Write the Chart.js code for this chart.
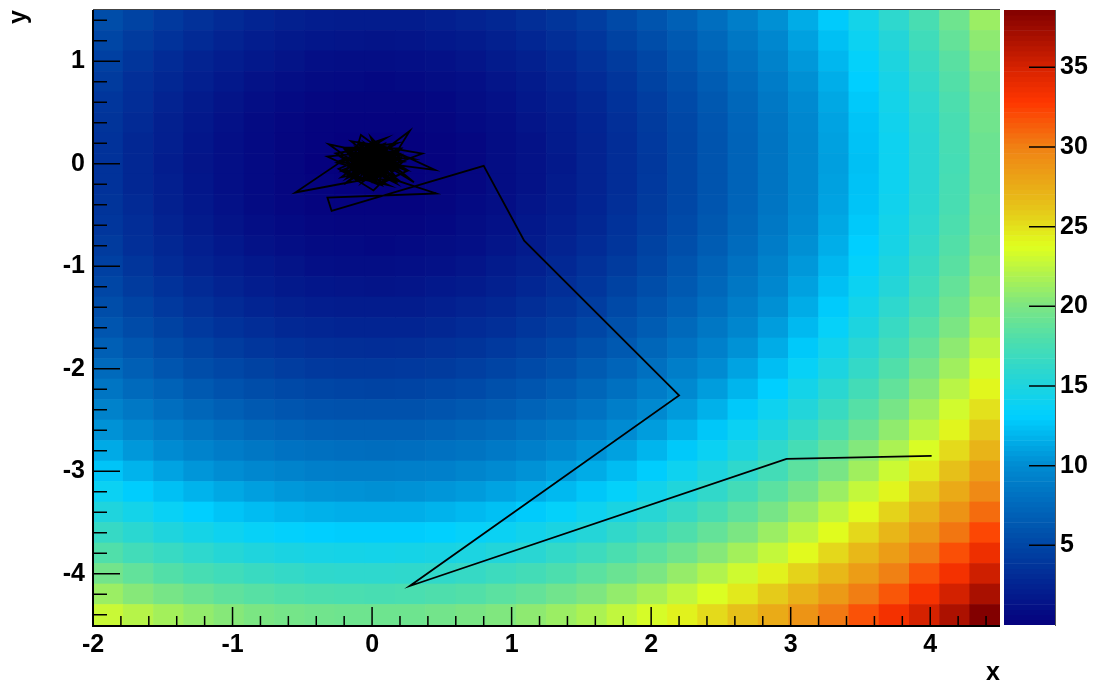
<!DOCTYPE html>
<html>
<head>
<meta charset="utf-8">
<script src="https://cdn.jsdelivr.net/npm/chart.js@4.4.1/dist/chart.umd.min.js"></script>
<style>
  html, body { margin: 0; padding: 0; background: #fff; }
  #wrap { position: relative; width: 1105px; height: 688px; }
  #main { position: absolute; left: 0; top: 0; }
  #palette { position: absolute; left: 1004px; top: 0; }
</style>
</head>
<body>
<div id="wrap">
  <canvas id="main" width="1105" height="688"></canvas>
  <canvas id="palette" width="101" height="688"></canvas>
</div>
<script>
// bin edges of the 30 x 30 histogram
const xEdges = [-2, -1.7833, -1.5667, -1.35, -1.1333, -0.9167, -0.7, -0.4833, -0.2667, -0.05,
  0.1667, 0.3833, 0.6, 0.8167, 1.0333, 1.25, 1.4667, 1.6833, 1.9, 2.1167,
  2.3333, 2.55, 2.7667, 2.9833, 3.2, 3.4167, 3.6333, 3.85, 4.0667, 4.2833, 4.5];
const yEdges = [-4.5, -4.3, -4.1, -3.9, -3.7, -3.5, -3.3, -3.1, -2.9, -2.7, -2.5, -2.3, -2.1,
  -1.9, -1.7, -1.5, -1.3, -1.1, -0.9, -0.7, -0.5, -0.3, -0.1, 0.1, 0.3, 0.5, 0.7, 0.9, 1.1, 1.3, 1.5];

// bin contents, top row (y = 1.4) first, left to right
const zValues = [
  [5.5,4.8,4.1,3.5,3.0,2.6,2.3,2.1,2.0,2.0,2.0,2.2,2.5,2.8,3.3,3.8,4.4,5.2,6.0,6.9,7.9,9.0,10.2,11.5,12.9,14.4,16.0,17.6,19.4,21.2],
  [5.0,4.2,3.6,3.0,2.5,2.1,1.8,1.6,1.5,1.4,1.5,1.7,1.9,2.3,2.7,3.3,3.9,4.7,5.5,6.4,7.4,8.5,9.7,11.0,12.4,13.9,15.4,17.1,18.9,20.7],
  [4.6,3.8,3.1,2.5,2.1,1.7,1.4,1.1,1.0,1.0,1.1,1.2,1.5,1.9,2.3,2.9,3.5,4.2,5.0,6.0,7.0,8.1,9.3,10.6,12.0,13.4,15.0,16.7,18.4,20.3],
  [4.2,3.4,2.8,2.2,1.7,1.3,1.0,0.8,0.7,0.6,0.7,0.9,1.1,1.5,1.9,2.5,3.1,3.8,4.7,5.6,6.6,7.7,8.9,10.2,11.6,13.1,14.6,16.3,18.1,19.9],
  [3.9,3.2,2.5,1.9,1.4,1.0,0.7,0.5,0.4,0.4,0.4,0.6,0.9,1.2,1.7,2.2,2.8,3.6,4.4,5.3,6.3,7.4,8.6,9.9,11.3,12.8,14.4,16.0,17.8,19.6],
  [3.7,3.0,2.3,1.7,1.2,0.8,0.5,0.3,0.2,0.2,0.2,0.4,0.7,1.0,1.5,2.0,2.6,3.4,4.2,5.1,6.1,7.2,8.4,9.7,11.1,12.6,14.2,15.8,17.6,19.5],
  [3.6,2.8,2.2,1.6,1.1,0.7,0.4,0.2,0.1,0.0,0.1,0.3,0.5,0.9,1.3,1.9,2.5,3.2,4.1,5.0,6.0,7.1,8.3,9.6,11.0,12.5,14.0,15.7,17.5,19.3],
  [3.6,2.8,2.1,1.5,1.1,0.7,0.4,0.1,0.0,0.0,0.1,0.2,0.5,0.9,1.3,1.8,2.5,3.2,4.0,5.0,6.0,7.1,8.3,9.6,10.9,12.4,14.0,15.7,17.4,19.3],
  [3.6,2.8,2.2,1.6,1.1,0.7,0.4,0.2,0.1,0.0,0.1,0.3,0.5,0.9,1.3,1.9,2.5,3.2,4.1,5.0,6.0,7.1,8.3,9.6,11.0,12.5,14.0,15.7,17.5,19.3],
  [3.7,3.0,2.3,1.7,1.2,0.8,0.5,0.3,0.2,0.2,0.2,0.4,0.7,1.0,1.5,2.0,2.6,3.4,4.2,5.1,6.1,7.2,8.4,9.7,11.1,12.6,14.2,15.8,17.6,19.5],
  [3.9,3.2,2.5,1.9,1.4,1.0,0.7,0.5,0.4,0.4,0.4,0.6,0.9,1.2,1.7,2.2,2.8,3.6,4.4,5.3,6.3,7.4,8.6,9.9,11.3,12.8,14.4,16.0,17.8,19.6],
  [4.2,3.4,2.8,2.2,1.7,1.3,1.0,0.8,0.7,0.6,0.7,0.9,1.1,1.5,1.9,2.5,3.1,3.8,4.7,5.6,6.6,7.7,8.9,10.2,11.6,13.1,14.6,16.3,18.1,19.9],
  [4.6,3.8,3.1,2.5,2.1,1.7,1.4,1.1,1.0,1.0,1.1,1.2,1.5,1.9,2.3,2.9,3.5,4.2,5.0,6.0,7.0,8.1,9.3,10.6,12.0,13.4,15.0,16.7,18.4,20.3],
  [5.0,4.2,3.6,3.0,2.5,2.1,1.8,1.6,1.5,1.4,1.5,1.7,1.9,2.3,2.7,3.3,3.9,4.7,5.5,6.4,7.4,8.5,9.7,11.0,12.4,13.9,15.4,17.1,18.9,20.7],
  [5.5,4.8,4.1,3.5,3.0,2.6,2.3,2.1,2.0,2.0,2.0,2.2,2.5,2.8,3.3,3.8,4.4,5.2,6.0,6.9,7.9,9.0,10.2,11.5,12.9,14.4,16.0,17.6,19.4,21.2],
  [6.1,5.4,4.7,4.1,3.6,3.2,2.9,2.7,2.6,2.6,2.6,2.8,3.1,3.4,3.9,4.4,5.0,5.8,6.6,7.5,8.5,9.6,10.8,12.1,13.5,15.0,16.6,18.2,20.0,21.8],
  [6.8,6.1,5.4,4.8,4.3,3.9,3.6,3.4,3.3,3.2,3.3,3.5,3.7,4.1,4.5,5.1,5.7,6.4,7.3,8.2,9.2,10.3,11.5,12.8,14.2,15.7,17.2,18.9,20.7,22.5],
  [7.6,6.8,6.1,5.5,5.1,4.7,4.4,4.1,4.0,4.0,4.1,4.2,4.5,4.9,5.3,5.8,6.5,7.2,8.0,9.0,10.0,11.1,12.3,13.6,14.9,16.4,18.0,19.7,21.4,23.3],
  [8.4,7.6,7.0,6.4,5.9,5.5,5.2,5.0,4.9,4.8,4.9,5.1,5.3,5.7,6.1,6.7,7.3,8.0,8.9,9.8,10.8,11.9,13.1,14.4,15.8,17.3,18.8,20.5,22.3,24.1],
  [9.3,8.6,7.9,7.3,6.8,6.4,6.1,5.9,5.8,5.8,5.8,6.0,6.3,6.6,7.1,7.6,8.2,9.0,9.8,10.7,11.7,12.8,14.0,15.3,16.7,18.2,19.8,21.4,23.2,25.0],
  [10.3,9.6,8.9,8.3,7.8,7.4,7.1,6.9,6.8,6.8,6.8,7.0,7.3,7.6,8.1,8.6,9.2,10.0,10.8,11.7,12.7,13.8,15.0,16.3,17.7,19.2,20.8,22.4,24.2,26.0],
  [11.4,10.6,10.0,9.4,8.9,8.5,8.2,8.0,7.9,7.8,7.9,8.1,8.3,8.7,9.1,9.7,10.3,11.0,11.9,12.8,13.8,14.9,16.1,17.4,18.8,20.3,21.8,23.5,25.3,27.1],
  [12.6,11.8,11.1,10.5,10.1,9.7,9.4,9.1,9.0,9.0,9.1,9.2,9.5,9.9,10.3,10.8,11.5,12.2,13.0,14.0,15.0,16.1,17.3,18.6,19.9,21.4,23.0,24.7,26.4,28.3],
  [13.8,13.0,12.4,11.8,11.3,10.9,10.6,10.4,10.3,10.2,10.3,10.5,10.7,11.1,11.5,12.1,12.7,13.4,14.3,15.2,16.2,17.3,18.5,19.8,21.2,22.7,24.2,25.9,27.7,29.5],
  [15.1,14.4,13.7,13.1,12.6,12.2,11.9,11.7,11.6,11.6,11.6,11.8,12.1,12.4,12.9,13.4,14.0,14.8,15.6,16.5,17.5,18.6,19.8,21.1,22.5,24.0,25.6,27.2,29.0,30.8],
  [16.5,15.8,15.1,14.5,14.0,13.6,13.3,13.1,13.0,13.0,13.0,13.2,13.5,13.8,14.3,14.8,15.4,16.2,17.0,17.9,18.9,20.0,21.2,22.5,23.9,25.4,27.0,28.6,30.4,32.2],
  [18.0,17.2,16.6,16.0,15.5,15.1,14.8,14.6,14.5,14.4,14.5,14.7,14.9,15.3,15.7,16.3,16.9,17.7,18.5,19.4,20.4,21.5,22.7,24.0,25.4,26.9,28.4,30.1,31.9,33.7],
  [19.6,18.8,18.1,17.5,17.1,16.7,16.4,16.1,16.0,16.0,16.1,16.2,16.5,16.9,17.3,17.8,18.5,19.2,20.0,21.0,22.0,23.1,24.3,25.6,26.9,28.4,30.0,31.7,33.4,35.3],
  [21.2,20.4,19.8,19.2,18.7,18.3,18.0,17.8,17.7,17.6,17.7,17.9,18.1,18.5,18.9,19.5,20.1,20.9,21.7,22.6,23.6,24.7,25.9,27.2,28.6,30.1,31.6,33.3,35.1,36.9],
  [22.9,22.2,21.5,20.9,20.4,20.0,19.7,19.5,19.4,19.4,19.4,19.6,19.9,20.2,20.7,21.2,21.8,22.6,23.4,24.3,25.3,26.4,27.6,28.9,30.3,31.8,33.4,35.0,36.8,38.6]
];

// walker path: starts at the far point, settles around the minimum
const pathX = [4.01, 2.97, 0.27, 2.20, 1.09, 0.80, -0.29, -0.32, 0.46, 0.08, -0.55, -0.19, 0.45, 0.02,
  -0.12, 0.27, 0.05, -0.31, 0.14, -0.08, -0.17, 0.12, -0.32, 0.03, 0.30, -0.10, 0.18, -0.24, 0.01,
  0.22, -0.06, 0.09, -0.15, 0.36, -0.03, 0.11, -0.20, 0.06, -0.09, 0.16, -0.04, 0.20, -0.13, 0.04,
  0.25, -0.07, 0.10, -0.18, 0.00, 0.13, -0.11, 0.07, -0.02, 0.15, -0.14, 0.03, -0.06, 0.19, -0.01,
  0.09, -0.16, 0.12, -0.05, 0.02, 0.21, -0.21, 0.06, -0.08, 0.14, -0.03, 0.10, -0.12, 0.04, 0.29,
  -0.10, 0.01, 0.17, -0.26, 0.08, -0.04, 0.11, -0.07, 0.05, -0.02,
  0.21, -0.18, 0.08, -0.23, 0.17, -0.05, 0.24, -0.15, 0.02, -0.21, 0.19, -0.09, 0.13, -0.24, 0.06,
  0.22, -0.12, 0.16, -0.19, 0.00, 0.20, -0.16, 0.10, -0.22, 0.14, -0.02, 0.23, -0.20, 0.07, -0.11,
  0.18, -0.25, 0.12, -0.07, 0.21, -0.17, 0.04, -0.14, 0.17, -0.21,
  0.05, -0.09, 0.12, -0.03, 0.08, -0.12, 0.02, 0.10, -0.06, 0.14, -0.10, 0.04, -0.01, 0.09, -0.08,
  0.13, -0.04, 0.06, -0.13, 0.01, 0.11, -0.07, 0.03, -0.11, 0.07, -0.02, 0.12, -0.09, 0.05, -0.05,
  0.15, -0.14, 0.00, 0.08, -0.03, 0.10, -0.10, 0.04, -0.06, 0.13, -0.01, 0.07, -0.12, 0.02, 0.09,
  -0.08, 0.06, -0.04, 0.11, -0.11, 0.03, -0.07, 0.14, -0.02, 0.05, -0.09, 0.10, -0.05, 0.01, 0.12,
  -0.13, 0.06, -0.03, 0.08, -0.10, 0.04, 0.11, -0.06, 0.00, 0.09];
const pathY = [-2.85, -2.88, -4.12, -2.26, -0.75, -0.02, -0.46, -0.33, -0.29, -0.12, -0.28, 0.05, -0.06, 0.21,
  -0.08, 0.32, -0.16, 0.19, 0.06, 0.28, -0.12, -0.21, 0.07, 0.12, -0.18, 0.15, 0.20, -0.05, -0.26,
  0.02, 0.09, -0.04, 0.22, 0.10, -0.10, 0.14, -0.20, 0.03, -0.02, -0.11, 0.18, 0.09, 0.00, -0.20,
  -0.07, 0.11, 0.25, 0.12, -0.07, -0.15, -0.16, 0.08, 0.04, 0.01, 0.07, 0.16, -0.13, -0.03, 0.26,
  -0.09, -0.03, 0.11, 0.06, -0.11, 0.15, 0.16, -0.02, 0.03, -0.06, 0.13, 0.04, -0.09, 0.07, 0.05,
  0.20, 0.00, -0.19, 0.10, 0.19, -0.04, -0.01, -0.06, 0.10, 0.01,
  0.10, -0.14, 0.19, 0.03, -0.17, 0.20, -0.05, 0.12, -0.19, -0.06, 0.14, 0.21, -0.16, 0.08, -0.20,
  -0.09, 0.17, -0.02, 0.13, -0.18, 0.06, -0.11, 0.20, -0.13, -0.04, 0.18, 0.02, -0.08, -0.21, 0.15,
  -0.15, 0.01, 0.16, -0.18, 0.09, 0.11, -0.12, -0.03, 0.19, -0.07,
  -0.04, 0.08, 0.02, -0.10, 0.12, -0.02, 0.15, -0.07, 0.05, -0.12, 0.10, -0.05, 0.07, 0.13, -0.09,
  0.04, 0.16, -0.01, 0.06, -0.13, 0.09, 0.01, -0.08, 0.11, -0.03, 0.14, -0.06, 0.03, 0.17, -0.11,
  0.06, 0.00, -0.14, 0.08, 0.12, -0.04, 0.05, -0.09, 0.15, 0.02, -0.12, 0.10, 0.07, -0.06, 0.13,
  -0.02, 0.04, -0.10, 0.11, 0.01, 0.09, -0.05, 0.03, 0.14, -0.08, 0.12, -0.11, 0.06, 0.16, -0.03,
  0.08, -0.07, 0.10, 0.00, -0.04, 0.13, 0.05, -0.12, 0.07, 0.02];

const xTicks = [-2, -1, 0, 1, 2, 3, 4];
const yTicks = [-4, -3, -2, -1, 0, 1];
const zTicks = [5, 10, 15, 20, 25, 30, 35];

const allZ = zValues.flat();
const zMin = Math.min(...allZ);
const zMax = Math.max(...allZ);

// rainbow palette: dark blue -> cyan -> green -> yellow -> red -> dark red
const paletteStops = [
  [0.00, [5, 0, 125]],
  [0.13, [0, 70, 165]],
  [0.26, [0, 140, 210]],
  [0.34, [0, 208, 255]],
  [0.39, [30, 212, 222]],
  [0.46, [75, 222, 175]],
  [0.52, [125, 230, 130]],
  [0.616, [224, 255, 30]],
  [0.68, [230, 195, 25]],
  [0.776, [240, 130, 20]],
  [0.85, [255, 55, 0]],
  [0.905, [215, 35, 0]],
  [1.00, [130, 0, 0]]
];

function paletteColor(z) {
  const t = Math.max(0, Math.min(1, (z - zMin) / (zMax - zMin)));
  for (let k = 1; k < paletteStops.length; k++) {
    const [t0, c0] = paletteStops[k - 1];
    const [t1, c1] = paletteStops[k];
    if (t <= t1) {
      const f = (t - t0) / (t1 - t0);
      const c = c0.map((v, n) => Math.round(v + (c1[n] - v) * f));
      return `rgb(${c[0]},${c[1]},${c[2]})`;
    }
  }
  return 'rgb(130,0,0)';
}

// one floating horizontal bar per cell
const cells = [];
const cellColors = [];
zValues.forEach((row, r) => {
  const yLo = yEdges[29 - r], yHi = yEdges[30 - r];
  row.forEach((z, i) => {
    cells.push({ y: (yLo + yHi) / 2, x: [xEdges[i], xEdges[i + 1]] });
    cellColors.push(paletteColor(z));
  });
});
const path = pathX.map((x, i) => ({ x, y: pathY[i] }));

const font = { family: "'Liberation Sans', Arial, sans-serif", weight: 'bold', size: 25 };

// keep the plot box fixed: no extra room for half-labels at the ends
const noEdgePadding = s => {
  s.paddingTop = 0; s.paddingBottom = 0; s.paddingLeft = 0; s.paddingRight = 0;
};

// axis frame and inward ticks (5 minor divisions per unit)
const frameTicks = {
  id: 'frameTicks',
  afterDatasetsDraw(chart) {
    const { ctx, chartArea: a, scales: { x, y } } = chart;
    ctx.save();
    ctx.strokeStyle = '#000';
    ctx.lineWidth = 1.5;
    ctx.beginPath();
    for (let k = Math.ceil(x.min * 5); k <= Math.floor(x.max * 5); k++) {
      const px = x.getPixelForValue(k / 5);
      const len = k % 5 === 0 ? 18 : 9;
      ctx.moveTo(px, a.bottom);
      ctx.lineTo(px, a.bottom - len);
    }
    for (let k = Math.ceil(y.min * 5); k <= Math.floor(y.max * 5); k++) {
      const py = y.getPixelForValue(k / 5);
      const len = k % 5 === 0 ? 27 : 14;
      ctx.moveTo(a.left, py);
      ctx.lineTo(a.left + len, py);
    }
    ctx.stroke();

    ctx.lineWidth = 2;
    ctx.beginPath();
    ctx.moveTo(a.left, a.top);
    ctx.lineTo(a.left, a.bottom + 1);
    ctx.lineTo(a.right, a.bottom + 1);
    ctx.stroke();

    ctx.strokeStyle = '#444';
    ctx.lineWidth = 1;
    ctx.beginPath();
    ctx.moveTo(a.left, a.top - 0.5);
    ctx.lineTo(a.right, a.top - 0.5);
    ctx.stroke();
    ctx.restore();
  }
};

new Chart(document.getElementById('main'), {
  type: 'bar',
  data: {
    datasets: [
      {
        type: 'line',
        indexAxis: 'x',
        data: path,
        borderColor: '#000',
        borderWidth: 1.8,
        pointRadius: 0,
        tension: 0,
        order: 0
      },
      {
        type: 'bar',
        indexAxis: 'y',
        data: cells,
        backgroundColor: cellColors,
        borderWidth: 0,
        barPercentage: 1,
        categoryPercentage: 1,
        grouped: false,
        order: 1
      }
    ]
  },
  options: {
    indexAxis: 'y',
    responsive: false,
    animation: false,
    devicePixelRatio: 1,
    events: [],
    layout: { padding: { top: 10, right: 105, left: 0, bottom: 0 } },
    plugins: { legend: { display: false }, tooltip: { enabled: false } },
    scales: {
      x: {
        type: 'linear',
        min: xEdges[0],
        max: xEdges[xEdges.length - 1],
        offset: false,
        grid: { display: false, drawTicks: false },
        border: { display: false },
        afterBuildTicks: s => { s.ticks = xTicks.map(v => ({ value: v })); },
        afterFit: s => { s.height = 63; noEdgePadding(s); },
        ticks: { font, color: '#000', padding: 5, maxRotation: 0, autoSkip: false, callback: v => String(v) },
        title: { display: true, text: 'x', align: 'end', font, color: '#000', padding: { top: 0, bottom: 0 } }
      },
      y: {
        type: 'linear',
        min: yEdges[0],
        max: yEdges[yEdges.length - 1],
        offset: false,
        grid: { display: false, drawTicks: false },
        border: { display: false },
        afterBuildTicks: s => { s.ticks = yTicks.map(v => ({ value: v })); },
        afterFit: s => { s.width = 93; noEdgePadding(s); },
        ticks: { font, color: '#000', padding: 8, autoSkip: false, callback: v => String(v) },
        title: { display: true, text: 'y', align: 'end', font, color: '#000', padding: { top: 4, bottom: 0 } }
      }
    }
  },
  plugins: [frameTicks]
});

// colour scale: thin bands from zMin to zMax
const nBands = 120;
const bands = [];
const bandColors = [];
for (let b = 0; b < nBands; b++) {
  const lo = zMin + (zMax - zMin) * b / nBands;
  const hi = zMin + (zMax - zMin) * (b + 1) / nBands;
  bands.push({ x: 'z', y: [lo, hi] });
  bandColors.push(paletteColor((lo + hi) / 2));
}

const paletteTicks = {
  id: 'paletteTicks',
  afterDatasetsDraw(chart) {
    const { ctx, chartArea: a, scales: { y } } = chart;
    ctx.save();
    ctx.strokeStyle = '#000';
    ctx.lineWidth = 1.5;
    ctx.beginPath();
    zTicks.forEach(v => {
      const py = y.getPixelForValue(v);
      ctx.moveTo(a.right, py);
      ctx.lineTo(a.right - 26, py);
    });
    ctx.stroke();
    ctx.strokeStyle = '#555';
    ctx.lineWidth = 1;
    ctx.beginPath();
    ctx.moveTo(a.right + 0.5, a.top);
    ctx.lineTo(a.right + 0.5, a.bottom + 1);
    ctx.stroke();
    ctx.restore();
  }
};

new Chart(document.getElementById('palette'), {
  type: 'bar',
  data: {
    labels: ['z'],
    datasets: [{
      data: bands,
      backgroundColor: bandColors,
      borderWidth: 0,
      barPercentage: 1,
      categoryPercentage: 1
    }]
  },
  options: {
    responsive: false,
    animation: false,
    devicePixelRatio: 1,
    events: [],
    layout: { padding: { top: 10, bottom: 63, left: 0, right: 0 } },
    plugins: { legend: { display: false }, tooltip: { enabled: false } },
    scales: {
      x: { display: false },
      y: {
        position: 'right',
        min: zMin,
        max: zMax,
        grid: { display: false, drawTicks: false },
        border: { display: false },
        afterBuildTicks: s => { s.ticks = zTicks.map(v => ({ value: v })); },
        afterFit: s => { s.width = 50; noEdgePadding(s); },
        ticks: { font, color: '#000', padding: 5, callback: v => String(v) }
      }
    }
  },
  plugins: [paletteTicks]
});
</script>
</body>
</html>
